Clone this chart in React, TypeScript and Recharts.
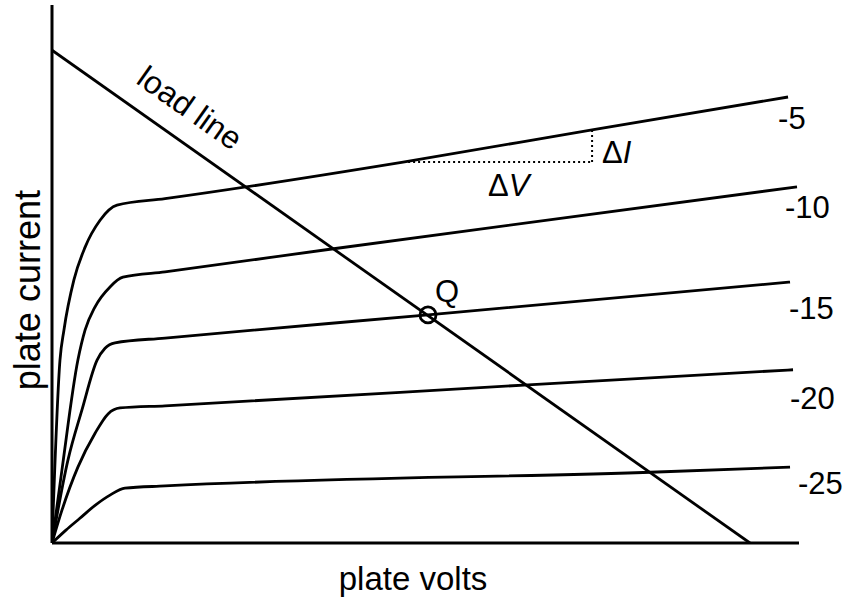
import React from 'react';
import { LineChart, Line, XAxis, YAxis, ReferenceDot, ReferenceLine } from 'recharts';

const FONT = '"Liberation Sans", Arial, Helvetica, sans-serif';

// plate characteristics for each grid bias: v = plate volts, i = plate current
const grid5 = [
    { v: 0, i: 0 }, { v: 3.2, i: 34.0 }, { v: 4.8, i: 39.6 }, { v: 8.8, i: 48.9 },
    { v: 13.3, i: 55.0 }, { v: 19.3, i: 60.0 }, { v: 26.1, i: 62.8 }, { v: 45.4, i: 64.0 },
    { v: 141.0, i: 70.8 }, { v: 216.9, i: 76.8 }, { v: 295.6, i: 82.9 },
];
const grid10 = [
    { v: 0, i: 0 }, { v: 4.0, i: 13.6 }, { v: 10.4, i: 34.0 }, { v: 13.3, i: 39.6 },
    { v: 17.3, i: 43.9 }, { v: 23.3, i: 47.6 }, { v: 28.5, i: 49.4 }, { v: 45.4, i: 50.4 },
    { v: 111.6, i: 54.6 }, { v: 299.2, i: 66.2 },
];
const grid15 = [
    { v: 0, i: 0 }, { v: 6.4, i: 15.4 }, { v: 12.0, i: 24.7 }, { v: 18.1, i: 34.0 },
    { v: 21.3, i: 36.2 }, { v: 25.3, i: 37.2 }, { v: 45.4, i: 38.1 }, { v: 151.0, i: 42.4 },
    { v: 296.4, i: 48.5 },
];
const grid20 = [
    { v: 0, i: 0 }, { v: 4.0, i: 6.1 }, { v: 10.4, i: 14.1 }, { v: 17.3, i: 20.4 },
    { v: 22.5, i: 24.0 }, { v: 27.3, i: 25.1 }, { v: 45.4, i: 25.5 }, { v: 191.2, i: 29.4 },
    { v: 297.6, i: 32.2 },
];
const grid25 = [
    { v: 0, i: 0 }, { v: 5.6, i: 2.4 }, { v: 11.2, i: 4.6 }, { v: 17.3, i: 7.0 },
    { v: 23.3, i: 8.9 }, { v: 29.3, i: 10.2 }, { v: 45.4, i: 10.6 }, { v: 243.0, i: 13.2 },
    { v: 296.4, i: 14.1 },
];
const curves = [grid5, grid10, grid15, grid20, grid25];

const loadLine = [{ v: 0, i: 91.6 }, { v: 280.3, i: 0 }];
const qPoint = { v: 151.0, i: 42.4 };
const dvStart = { v: 141.0, i: 70.8 };
const dvEnd = { v: 216.9, i: 70.8 };
const diTop = { v: 216.9, i: 76.8 };

// text anchors (start of text, baseline)
const biasLabels = [
    { text: '-5', v: 291.6, i: 77.0 },
    { text: '-10', v: 294.4, i: 60.4 },
    { text: '-15', v: 296.0, i: 41.6 },
    { text: '-20', v: 296.4, i: 24.9 },
    { text: '-25', v: 299.6, i: 9.1 },
];
const qLabel = { v: 153.8, i: 44.8 };
const dILabel = { v: 220.9, i: 70.6 };
const dVLabel = { v: 175.1, i: 64.5 };
const loadLabel = { v: 55.4, i: 80.9 };
const xTitle = { v: 145.0, i: -8.7 };
const yTitle = { v: -4.8, i: 47.0 };

const textShape = (content: React.ReactNode) => (p: any) => (
    <text x={p.cx} y={p.cy} fontSize={31} fontFamily={FONT} fill="#000">{content}</text>
);

export default function App() {
    return (
        <div style={{ position: 'absolute', left: 0, top: 0, width: 859, height: 601, background: '#fff' }}>
            <LineChart width={859} height={601} margin={{ top: 5, right: 60, bottom: 58, left: 52 }}>
                <XAxis type="number" dataKey="v" domain={[0, 300]} hide allowDataOverflow />
                <YAxis type="number" dataKey="i" domain={[0, 100]} hide allowDataOverflow />

                {/* axes */}
                <ReferenceLine segment={[{ x: 0, y: 0 }, { x: 300, y: 0 }]} stroke="#000" strokeWidth={3} />
                <ReferenceLine segment={[{ x: 0, y: 0 }, { x: 0, y: 100 }]} stroke="#000" strokeWidth={3} />

                {curves.map((d, k) => (
                    <Line key={k} data={d} dataKey="i" type="monotone" dot={false} stroke="#000"
                        strokeWidth={2.8} isAnimationActive={false} />
                ))}
                <Line data={loadLine} dataKey="i" type="linear" dot={false} stroke="#000"
                    strokeWidth={2.8} isAnimationActive={false} />

                <ReferenceLine segment={[{ x: dvStart.v, y: dvStart.i }, { x: dvEnd.v, y: dvEnd.i }]}
                    stroke="#000" strokeWidth={2} strokeDasharray="2 3" />
                <ReferenceLine segment={[{ x: dvEnd.v, y: dvEnd.i }, { x: diTop.v, y: diTop.i }]}
                    stroke="#000" strokeWidth={2} strokeDasharray="2 3" />

                <ReferenceDot x={qPoint.v} y={qPoint.i} r={8} fill="none" stroke="#000" strokeWidth={2.8} />

                {biasLabels.map((b) => (
                    <ReferenceDot key={b.text} x={b.v} y={b.i} r={0} ifOverflow="visible" shape={textShape(b.text)} />
                ))}
                <ReferenceDot x={qLabel.v} y={qLabel.i} r={0} shape={textShape('Q')} />
                <ReferenceDot x={dILabel.v} y={dILabel.i} r={0}
                    shape={textShape(<>Δ<tspan fontStyle="italic">I</tspan></>)} />
                <ReferenceDot x={dVLabel.v} y={dVLabel.i} r={0}
                    shape={textShape(<>Δ<tspan fontStyle="italic">V</tspan></>)} />
                <ReferenceDot x={loadLabel.v} y={loadLabel.i} r={0} shape={(p: any) => (
                    <text x={p.cx} y={p.cy} dy="0.35em" textAnchor="middle" transform={`rotate(35.2 ${p.cx} ${p.cy})`}
                        fontSize={32} fontFamily={FONT} fill="#000">load line</text>
                )} />

                <ReferenceDot x={xTitle.v} y={xTitle.i} r={0} ifOverflow="visible" shape={(p: any) => (
                    <text x={p.cx} y={p.cy} textAnchor="middle" fontSize={33} fontFamily={FONT} fill="#000">plate volts</text>
                )} />
                <ReferenceDot x={yTitle.v} y={yTitle.i} r={0} ifOverflow="visible" shape={(p: any) => (
                    <text x={p.cx} y={p.cy} textAnchor="middle" transform={`rotate(-90 ${p.cx} ${p.cy})`}
                        fontSize={36} fontFamily={FONT} fill="#000">plate current</text>
                )} />
            </LineChart>
        </div>
    );
}
